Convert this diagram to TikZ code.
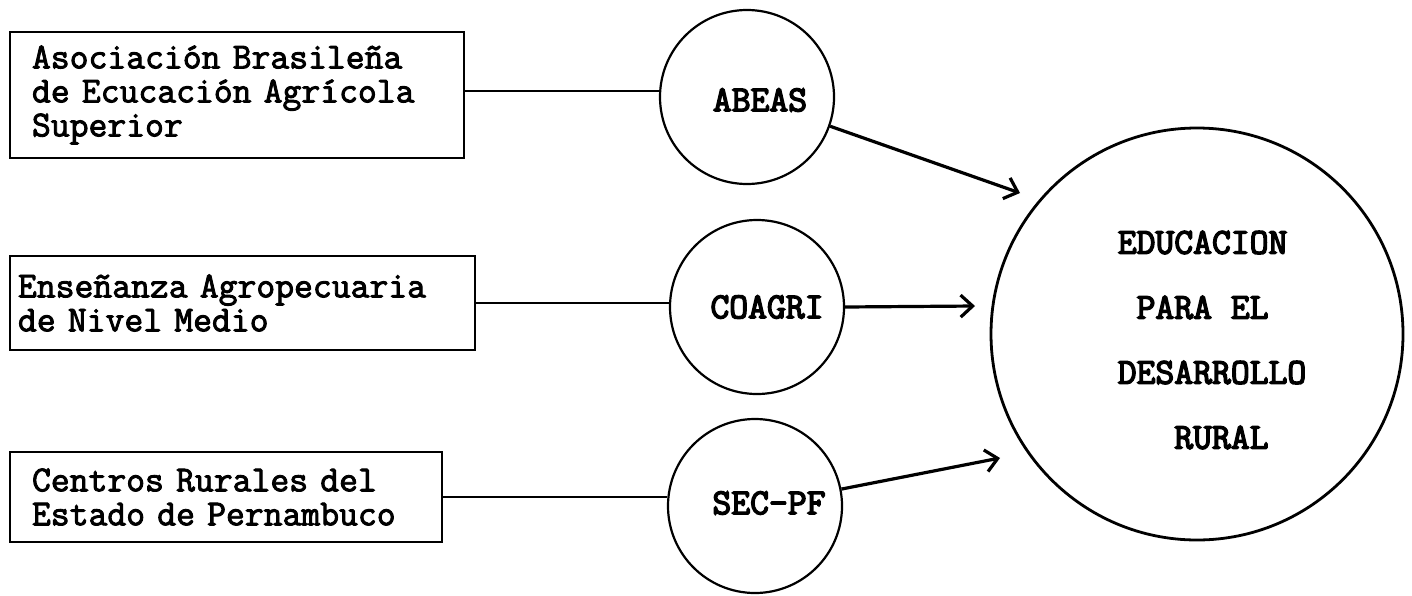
\documentclass[tikz,border=0pt]{standalone}
\usepackage{fontspec}
\newfontfamily\typew[FakeBold=2.5]{Latin Modern Mono}
\newfontfamily\typewb[FakeBold=4]{Latin Modern Mono}
\usetikzlibrary{arrows.meta}
\begin{document}
\begin{tikzpicture}[x=0.5pt,y=-0.5pt,
  box/.style={draw, line width=1.4pt, align=left, inner ysep=0pt,
    font=\typew\fontsize{18.3}{17}\selectfont},
  circ/.style={draw, circle, line width=1.1pt, minimum size=87pt, inner sep=0pt},
  clabel/.style={font=\typewb\fontsize{18.3}{18}\selectfont},
  link/.style={line width=1.2pt},
  arr/.style={line width=1.6pt, -{Straight Barb[length=6pt,width=11pt,line width=1.6pt]}}
]
\useasboundingbox (0,0) rectangle (1412,595);
\fill[white] (0,0) rectangle (1412,595);

% source boxes
\node[box, inner xsep=11pt, text width=205pt, minimum height=63pt] (b1) at (237,95)
  {Asociación Brasileña\\de Ecucación Agrícola\\Superior};
\node[box, inner xsep=4pt, text width=224.5pt, minimum height=47pt] (b2) at (242.5,303)
  {Enseñanza Agropecuaria\\de Nivel Medio};
\node[box, inner xsep=11pt, text width=194pt, minimum height=45pt] (b3) at (226,497)
  {Centros Rurales del\\Estado de Pernambuco};

% intermediate circles
\node[circ, label={[clabel, xshift=6.5pt, yshift=-1.5pt]center:ABEAS}] (c1) at (747,97) {};
\node[circ, label={[clabel, xshift=5pt]center:COAGRI}] (c2) at (757,307) {};
\node[circ, label={[clabel, xshift=7pt, yshift=1.5pt]center:SEC-PF}] (c3) at (755,506) {};

% target circle
\node[circ, line width=1.4pt, minimum size=206pt,
  label={[clabel, align=left, xshift=7.5pt, yshift=-3pt,
          font=\typewb\fontsize{18.3}{32.5}\selectfont]center:{EDUCACION\\\phantom{X}PARA EL\\DESARROLLO\\\phantom{XXX}RURAL}}] (big) at (1197,334) {};

% connectors box -> circle
\draw[link] (b1.east) ++(0,-4) coordinate (s1) -- (s1 -| c1.west);
\draw[link] (b2.east) -- (b2.east -| c2.west);
\draw[link] (b3.east) -- (b3.east -| c3.west);

% arrow tips (free ends)
\coordinate (t1) at (1020,193);
\coordinate (t2) at (975,306);
\coordinate (t3) at (1000,458);

\draw[arr] (c1) -- (t1);
\draw[arr] (c2.east) -- (t2);
\draw[arr] (c3) -- (t3);
\end{tikzpicture}
\end{document}
